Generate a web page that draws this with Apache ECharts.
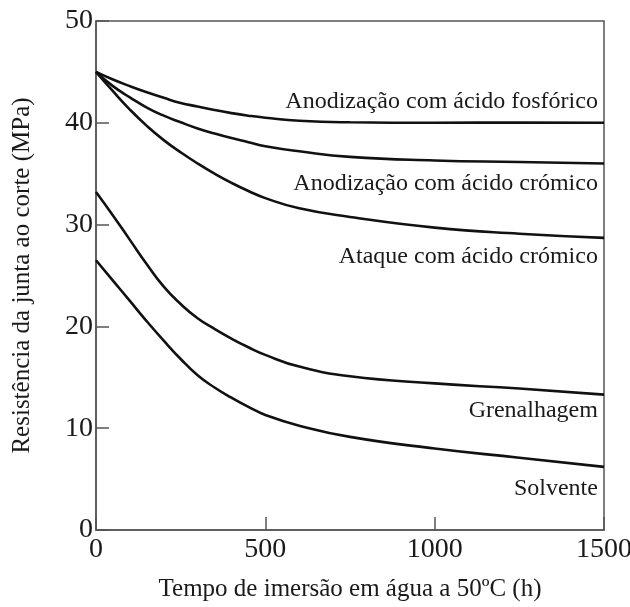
<!DOCTYPE html>
<html>
<head>
<meta charset="utf-8">
<script src="https://cdn.jsdelivr.net/npm/echarts@6/dist/echarts.min.js"></script>
<style>
  html, body { margin: 0; padding: 0; background: #fff; }
  #chart { width: 630px; height: 607px; }
</style>
</head>
<body>
<div id="chart"></div>
<script>
// tempo (h)
const horas = [0, 50, 100, 150, 200, 250, 300, 350, 400, 450, 500, 600, 750, 1000, 1250, 1500];
// resistencia (MPa)
const fosforico = [45, 44.25, 43.6, 43.0, 42.45, 41.95, 41.6, 41.25, 40.95, 40.7, 40.5, 40.2, 40.05, 40.0, 40.03, 40.0];
const cromicoAnod = [45, 43.6, 42.5, 41.5, 40.7, 40.05, 39.45, 38.95, 38.5, 38.1, 37.7, 37.2, 36.65, 36.3, 36.15, 36.0];
const ataque = [45, 43.1, 41.3, 39.7, 38.3, 37.1, 36.0, 35.0, 34.1, 33.3, 32.6, 31.6, 30.75, 29.7, 29.1, 28.7];
const grenalhagem = [33.2, 30.9, 28.5, 26.1, 23.9, 22.2, 20.8, 19.75, 18.8, 17.95, 17.2, 16.05, 15.1, 14.4, 13.9, 13.3];
const solvente = [26.5, 24.5, 22.5, 20.5, 18.6, 16.8, 15.2, 14.0, 13.0, 12.1, 11.3, 10.25, 9.15, 8.0, 7.1, 6.2];

const nomes = [
  "Anodização com ácido fosfórico",
  "Anodização com ácido crómico",
  "Ataque com ácido crómico",
  "Grenalhagem",
  "Solvente"
];
// onde fica o texto de cada curva (y em MPa)
const posTexto = [42.1, 34.0, 26.8, 11.7, 4.1];

const font = "'Liberation Serif', 'DejaVu Serif', serif";

function serie(nome, valores, yTexto) {
  return {
    name: nome,
    type: "line",
    smooth: 0.5,
    symbol: "none",
    lineStyle: { color: "#111", width: 2.6 },
    data: horas.map((h, i) => [h, valores[i]]),
    markPoint: {
      symbol: "circle",
      symbolSize: 0,
      silent: true,
      data: [{
        coord: [1482, yTexto],
        label: {
          show: true,
          position: "left",
          distance: 0,
          formatter: nome,
          color: "#1a1a1a",
          fontFamily: font,
          fontSize: 24
        }
      }]
    }
  };
}

const chart = echarts.init(document.getElementById("chart"));
chart.setOption({
  animation: false,
  grid: {
    left: 96,
    right: 26,
    top: 21,
    bottom: 77,
    outerBoundsMode: "none",
    containLabel: false,
    show: true,
    borderColor: "#555",
    borderWidth: 1.5
  },
  xAxis: {
    type: "value",
    min: 0,
    max: 1500,
    interval: 500,
    name: "Tempo de imersão em água a 50ºC (h)",
    nameLocation: "middle",
    nameGap: 47,
    nameTextStyle: { fontFamily: font, fontSize: 25, color: "#1a1a1a" },
    axisLine: { lineStyle: { color: "#555", width: 1.5 } },
    axisTick: { inside: true, length: 13, lineStyle: { color: "#555", width: 1.5 } },
    axisLabel: {
      fontFamily: font, fontSize: 28, color: "#1a1a1a", margin: 6,
      formatter: v => String(v)
    },
    splitLine: { show: false }
  },
  yAxis: {
    type: "value",
    min: 0,
    max: 50,
    interval: 10,
    name: "Resistência da junta ao corte (MPa)",
    nameLocation: "middle",
    nameGap: 61,
    nameTextStyle: { fontFamily: font, fontSize: 25, color: "#1a1a1a" },
    axisLine: { lineStyle: { color: "#555", width: 1.5 } },
    axisTick: { inside: true, length: 13, lineStyle: { color: "#555", width: 1.5 } },
    axisLabel: { fontFamily: font, fontSize: 28, color: "#1a1a1a", margin: 3 },
    splitLine: { show: false }
  },
  series: [
    serie(nomes[0], fosforico, posTexto[0]),
    serie(nomes[1], cromicoAnod, posTexto[1]),
    serie(nomes[2], ataque, posTexto[2]),
    serie(nomes[3], grenalhagem, posTexto[3]),
    serie(nomes[4], solvente, posTexto[4])
  ]
});
</script>
</body>
</html>
